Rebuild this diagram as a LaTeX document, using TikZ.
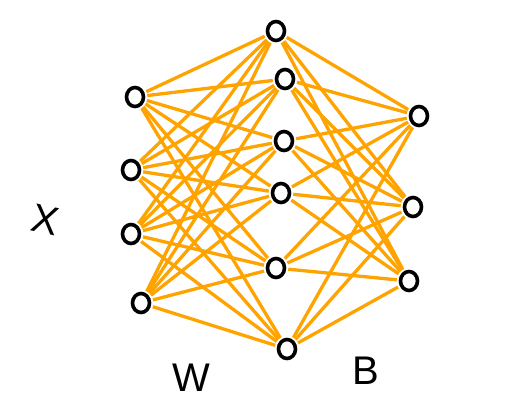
\documentclass[tikz,border=0pt]{standalone}
\usepackage{fontspec}
\setmainfont{Liberation Sans}
\usetikzlibrary{shapes.geometric,backgrounds}
\definecolor{linkorange}{RGB}{255,163,0}
\tikzset{
  neuron/.style={draw=black, line width=3.6pt, ellipse, minimum width=17pt, minimum height=19pt, inner sep=0pt, fill=white},
  link/.style={draw=linkorange, line width=3.3pt},
  lbl/.style={font=\fontsize{40}{40}\selectfont, text=black}
}
\begin{document}
\begin{tikzpicture}[x=1pt,y=-1pt]
\useasboundingbox (0,0) rectangle (512,404);
\node[neuron] (L1) at (135,97) {};
\node[neuron] (L2) at (131,170) {};
\node[neuron] (L3) at (131,234) {};
\node[neuron] (L4) at (141,303) {};
\node[neuron] (M1) at (276,31) {};
\node[neuron] (M2) at (285,79) {};
\node[neuron] (M3) at (284,141) {};
\node[neuron] (M4) at (281,193) {};
\node[neuron] (M5) at (276,268) {};
\node[neuron] (M6) at (287,349) {};
\node[neuron] (R1) at (419,116) {};
\node[neuron] (R2) at (413,207) {};
\node[neuron] (R3) at (409,281) {};
\begin{scope}[on background layer]
\foreach \l in {L1,L2,L3,L4}{
  \foreach \m in {M1,M2,M3,M4,M5,M6}{
    \draw[link, shorten <=2pt, shorten >=2pt] (\l) -- (\m);
  }
}
\foreach \m in {M1,M2,M3,M4,M5,M6}{
  \foreach \r in {R1,R2,R3}{
    \draw[link, shorten <=2pt, shorten >=2pt] (\m) -- (\r);
  }
}
\end{scope}
\node[lbl, rotate=-12] (X) at (45,220) {X};
\node[lbl] (W) at (191,378) {W};
\node[lbl] (B) at (366,371) {B};
\end{tikzpicture}
\end{document}
